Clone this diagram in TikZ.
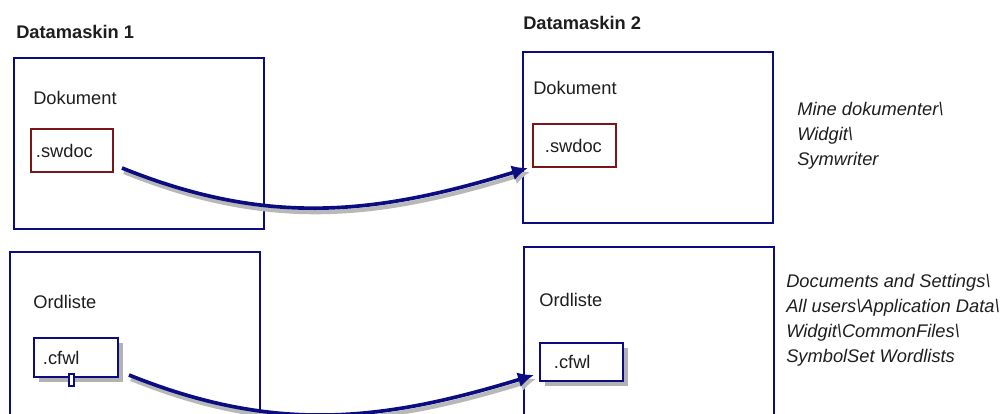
\documentclass[tikz,border=0pt]{standalone}
\usepackage{fontspec}
\setmainfont{Liberation Sans}
\usetikzlibrary{arrows.meta,shadows}
\definecolor{boxblue}{RGB}{12,12,130}
\definecolor{filered}{RGB}{122,22,22}
\definecolor{inktext}{RGB}{30,30,30}
\tikzset{
	machine/.style={draw=boxblue, line width=1.4pt, minimum width=62.5mm, anchor=north west, inner sep=0pt},
	boxtitle/.style={anchor=west, inner sep=0pt, font=\fontsize{13}{17.8}\selectfont\bfseries},
	boxtext/.style={anchor=west, inner sep=0pt},
	docfile/.style={draw=filered, line width=1.4pt, anchor=north west, minimum height=10.75mm, inner ysep=0pt, align=left},
	wordfile/.style={draw=boxblue, line width=1.4pt, fill=white, anchor=north west, inner ysep=0pt, align=left,
		drop shadow={shadow xshift=1.2mm, shadow yshift=-1.2mm, fill=black!60, opacity=0.5}},
	pathtext/.style={anchor=north west, inner sep=0pt, align=left, font=\fontsize{13}{17.8}\selectfont\itshape},
	transfer/.style={draw=boxblue, line width=2.6pt, -{Latex[length=4mm,width=3.8mm]},
		preaction={draw=black!28, line width=3pt, transform canvas={xshift=0.5mm, yshift=-1mm}}},
}

\begin{document}
\begin{tikzpicture}[x=0.025cm, y=0.025cm, font=\fontsize{13}{17.8}\selectfont, text=inktext]
	%%%%% START %%%%%
	\useasboundingbox (0, 0) rectangle (1008, -414);
	\clip (0, 0) rectangle (1008, -414);

	% machine 1
	\node[boxtitle] (title1) at (16, -31.5) {Datamaskin 1};
	\node[machine, minimum height=42.75mm] (doc1) at (13, -57) {};
	\node[machine, minimum height=50mm] (list1) at (9, -251) {};
	\node[boxtext] (dok1) at (33, -98) {Dokument};
	\node[boxtext] (ord1) at (33, -302) {Ordliste};
	\node[docfile, inner xsep=1.25mm, text width=18mm] (swdoc1) at (30, -128) {.swdoc};
	\node[wordfile, inner xsep=2.25mm, text width=16.5mm, minimum height=9.75mm] (cfwl1) at (33, -337) {.cfwl};
	\node[draw=boxblue, line width=1.2pt, fill=white, inner sep=0pt, minimum width=1.25mm, minimum height=3mm, anchor=north] (tab1) at (71.5, -373) {};

	% machine 2
	\node[boxtitle] (title2) at (523, -22.5) {Datamaskin 2};
	\node[machine, minimum height=42.75mm] (doc2) at (522, -51) {};
	\node[machine, minimum height=50mm] (list2) at (523, -246) {};
	\node[boxtext] (dok2) at (533, -88) {Dokument};
	\node[boxtext] (ord2) at (539, -300) {Ordliste};
	\node[docfile, inner xsep=3mm, text width=14.75mm] (swdoc2) at (532, -123) {.swdoc};
	\node[wordfile, inner xsep=3.5mm, text width=13.75mm, minimum height=9.5mm] (cfwl2) at (539, -342) {.cfwl};

	% folders
	\node[pathtext] (path1) at (797, -102) {Mine dokumenter\textbackslash\\Widgit\textbackslash\\Symwriter};
	\node[pathtext] (path2) at (786, -274) {Documents and Settings\textbackslash\\All users\textbackslash Application Data\textbackslash\\Widgit\textbackslash CommonFiles\textbackslash\\SymbolSet Wordlists};

	% copy arrows
	\draw[transfer] ([xshift=2mm, yshift=1.25mm]swdoc1.south east) to[out=-22, in=197] ([xshift=-1mm]swdoc2.south west);
	\draw[transfer] ([xshift=2.5mm, yshift=0.75mm]cfwl1.south east) to[out=-22, in=197] ([xshift=-1.25mm, yshift=1.75mm]cfwl2.south west);
	%%%%% END %%%%%
\end{tikzpicture}
\end{document}
